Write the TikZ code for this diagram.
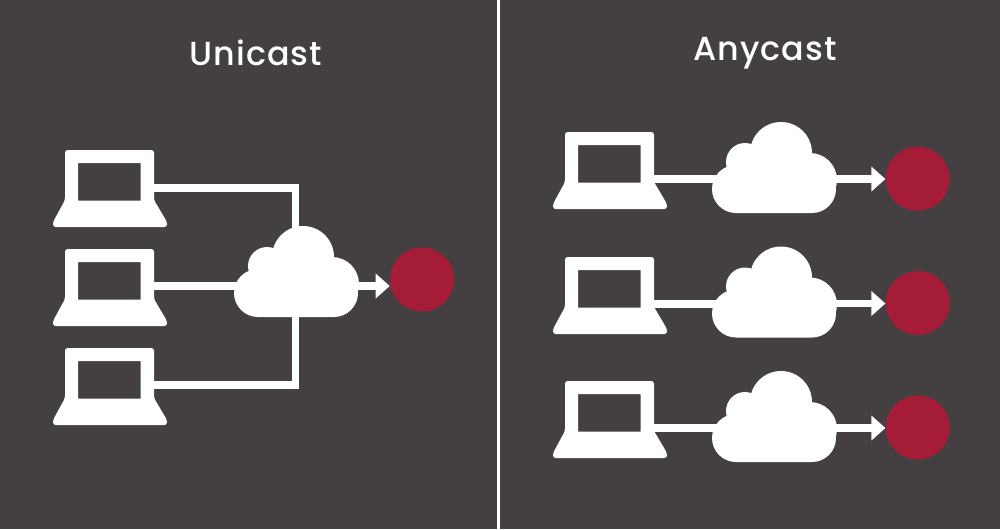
\documentclass[tikz,border=0pt]{standalone}
\usepackage{fontspec}
\setmainfont{Poppins}[BoldFont={Poppins Medium},LetterSpace=3]
\usetikzlibrary{arrows.meta}
\definecolor{panel}{RGB}{68,64,65}
\definecolor{target}{RGB}{165,28,54}
\tikzset{
  title/.style={text=white,font=\fontsize{25}{29}\selectfont\bfseries,anchor=center},
  wire/.style={draw=white,line width=5.6pt},
  arrowwire/.style={wire,-{Triangle[length=10.5pt,width=18pt]}},
  dest/.style={circle,fill=target,minimum size=48pt,inner sep=0pt},
  pics/laptop/.style={code={
    \begin{scope}[yscale=-1]
    \fill[white,even odd rule] [rounded corners=2pt] (0,0) -- (89,0) -- (89,50) -- (102,72) -- (102,77) -- (-12,77) -- (-12,72) -- (0,50) -- cycle
      [sharp corners] (13,13) rectangle (75.5,50.5);
    \coordinate (-port) at (89,#1);
    \end{scope}
  }},
  pics/cloud/.style={code={
    \begin{scope}[yscale=-1]
    \fill[white] (69,31) circle [radius=31];
    \fill[white] (33,40) circle [radius=19];
    \fill[white] (98,58) circle [radius=27];
    \fill[white,rounded corners=18pt] (0,43) rectangle (124,91);
    \coordinate (-east) at (124,#1);
    \end{scope}
  }}
}
\begin{document}
\begin{tikzpicture}[x=0.75pt,y=0.75pt,yscale=-1,xscale=1]
\fill[panel] (0,0) rectangle (1000,529);
\useasboundingbox (0,0) rectangle (1000,529);
\coordinate (divtop) at (498.5,0);
\coordinate (divbot) at (498.5,529);
\draw[white,line width=2.6pt] (divtop) -- (divbot);

\node[title] (uni) at (256,53) {Unicast};
\node[title] (any) at (765,53) {Anycast};

% unicast side
\pic (lapa) at (65,150) {laptop=38};
\pic (lapb) at (65,249) {laptop=37};
\pic (lapc) at (65,348) {laptop=37};
\node[dest] (reda) at (422,279.5) {};
\coordinate (cluwire) at (295.5,240);
\draw[wire] (lapa-port) -| (cluwire);
\coordinate (cluwirelow) at (295.5,310);
\draw[wire] (lapc-port) -| (cluwirelow);
\draw[wire] (lapb-port) -- ++(90,0);
\pic (clu) at (234,226) {cloud=60};
\draw[arrowwire] (clu-east) -- (clu-east -| reda.west);

% anycast side
\foreach \row/\lapy/\cldy/\redy in {a/132/122/178.7,b/257/246.5/303,c/381/371/427.5}{
  \pic (lap\row) at (565,\lapy) {laptop=47};
  \node[dest] (dst\row) at (917.7,\redy) {};
  \draw[wire] (lap\row-port) -- ++(70,0);
  \pic (cld\row) at (712,\cldy) {cloud=57};
  \draw[arrowwire] (cld\row-east) -- (cld\row-east -| dst\row.west);
}
\end{tikzpicture}
\end{document}
